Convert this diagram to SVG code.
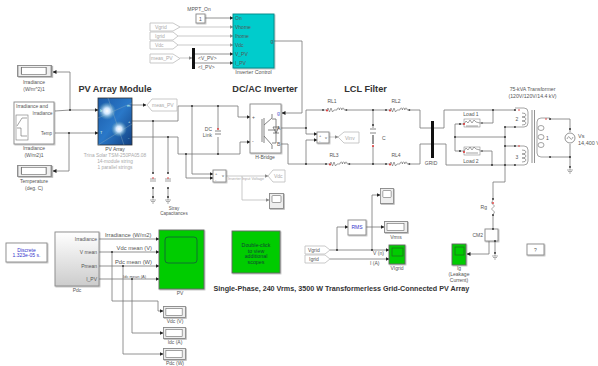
<svg xmlns="http://www.w3.org/2000/svg" width="598" height="366" viewBox="0 0 598 366">
<style>
text{font-family:"Liberation Sans",Arial,sans-serif;fill:#555;font-size:5px}
.m{text-anchor:middle}.e{text-anchor:end}
.h{font-weight:bold;fill:#333;font-size:9.200px;text-anchor:middle}
.g{fill:#aaa}
.w{fill:none;stroke:#777;stroke-width:.8}
.lg{fill:none;stroke:#bbb;stroke-width:.8}
.b{fill:#fff;stroke:#888;stroke-width:.9;filter:url(#s)}
.tag{fill:#fff;stroke:#bbb;stroke-width:.8}
.sc{fill:#0c0;stroke:#666;stroke-width:.9;filter:url(#s)}
.d{fill:#333}
.c{fill:none;stroke:#666;stroke-width:.6}
.l{font-size:5.800px}
</style>
<defs>
<filter id="s" x="-10%" y="-10%" width="125%" height="125%"><feDropShadow dx=".8" dy=".8" stdDeviation=".5" flood-color="#000" flood-opacity=".3"/></filter>
<linearGradient id="pdc" x1="0" y1="0" x2="0" y2="1"><stop offset="0" stop-color="#fff"/><stop offset="1" stop-color="#ccc"/></linearGradient>
<linearGradient id="pv" x1="0" y1="0" x2="1" y2="1"><stop offset="0" stop-color="#1a5aa8"/><stop offset=".5" stop-color="#2a78c8"/><stop offset="1" stop-color="#123f80"/></linearGradient>
<radialGradient id="gl"><stop offset="0" stop-color="#fff"/><stop offset=".35" stop-color="#cfe6ff"/><stop offset="1" stop-color="#6ab" stop-opacity="0"/></radialGradient>
<marker id="a" markerWidth="4" markerHeight="4" refX="3.500" refY="2" orient="auto" markerUnits="userSpaceOnUse"><path d="M0 0L4 2L0 4z" fill="#222"/></marker>
<marker id="ag" markerWidth="4" markerHeight="4" refX="3.500" refY="2" orient="auto" markerUnits="userSpaceOnUse"><path d="M0 0L4 2L0 4z" fill="#888"/></marker>
<symbol id="rl" width="26" height="6" viewBox="0 0 26 6" overflow="visible">
<circle cx="1" cy="3" r="1" fill="#333"/><path class="c" d="M1 3H5L6 1L7.500 5L9 1L10.500 5L12 3H15M15 3a1.200 2 0 0 1 2.400 0a1.200 2 0 0 1 2.400 0a1.200 2 0 0 1 2.400 0H25"/><circle cx="5" cy="3.500" r="1" fill="#d33"/><circle cx="24.500" cy="3" r=".8" fill="#333"/>
</symbol>
<symbol id="disp" viewBox="0 0 24 12" preserveAspectRatio="none" overflow="visible">
<rect x=".5" y=".5" width="23" height="11" class="b" style="fill:#eee"/><rect x="3" y="2.500" width="17" height="7" fill="#fff" stroke="#666" stroke-width=".6"/>
</symbol>
<symbol id="gnd" width="8" height="6" viewBox="0 0 8 6" overflow="visible"><path d="M4 0V2M1 2H7M2 3.500H6M3 5H5" stroke="#777" stroke-width=".6" fill="none"/></symbol>
<symbol id="scp" viewBox="0 0 15 16" preserveAspectRatio="none" overflow="visible"><rect x=".5" y=".5" width="14" height="15" class="b" style="fill:#eee"/><rect x="3" y="2.500" width="9" height="7" rx="1" fill="#fff" stroke="#666" stroke-width=".6"/></symbol>
</defs>

<g id="connectors">
<path class="w" d="M70 110V72H53" marker-end="url(#a)"/>
<path class="w" d="M55 111L70 110H98" marker-end="url(#a)"/>
<path class="w" d="M55 133H98" marker-end="url(#a)"/>
<path class="w" d="M69 133V171H53" marker-end="url(#a)"/>
<path class="w" d="M132 105H146" marker-end="url(#a)"/>
<path class="w" d="M132 121H178V106H238V117H250" marker-end="url(#a)"/>
<path class="w" d="M132 137H178V154H240V142H250" marker-end="url(#a)"/>
<path class="w" d="M153 121V173M153 188V198M168 137V173M168 188V198"/>
<path class="w" d="M218 106V154"/>
<path class="w" d="M192 106V174H213" marker-end="url(#a)"/>
<path class="w" d="M186 154V178H213" marker-end="url(#a)"/>
<path class="lg" d="M226 176H268" marker-end="url(#ag)"/>
<path class="lg" d="M242 176V200H269" marker-end="url(#ag)"/>
<path class="lg" d="M180 27H233" marker-end="url(#ag)"/>
<path class="lg" d="M178 36H233" marker-end="url(#ag)"/>
<path class="lg" d="M178 45H233" marker-end="url(#ag)"/>
<path class="lg" d="M180 58H192" marker-end="url(#ag)"/>
<path class="w" d="M205 18H233" marker-end="url(#a)"/>
<path class="w" d="M195 54H233" marker-end="url(#a)"/>
<path class="w" d="M195 63H233" marker-end="url(#a)"/>
<path class="w" d="M274 41H302V113H282" marker-end="url(#a)"/>
<path class="w" d="M281 128H306V110H322M345 110H385M408 110H420V128H431M434 128H444V110H515"/>
<path class="w" d="M306 128V134H317" marker-end="url(#a)"/>
<path class="w" d="M281 144H288V164H325M348 164H385M408 164H420V144H431M434 144H446V165H515"/>
<path class="w" d="M306 164V140H317" marker-end="url(#a)"/>
<path class="lg" d="M329 137H338" marker-end="url(#ag)"/>
<path class="w" d="M373 110V128M373 146V164"/>
<path class="w" d="M455 124H460M455 124V151H460M455 137H505M480 123H493V110M480 151H492V165M515 127H505V182H493V199M505 146H515M493 215V229M495 241V253M489 241V254"/>
<path class="w" d="M550 119H570V132M570 144V167M550 157H570"/>
<path class="w" d="M99 239H159" marker-end="url(#a)"/>
<path class="w" d="M99 252H159" marker-end="url(#a)"/>
<path class="w" d="M99 266H159" marker-end="url(#a)"/>
<path class="w" d="M99 279H159" marker-end="url(#a)"/>
<path class="w" d="M112 252V301H158V311H163" marker-end="url(#a)"/>
<path class="w" d="M132 279V333H163" marker-end="url(#a)"/>
<path class="w" d="M123 266V354H163" marker-end="url(#a)"/>
<path class="w" d="M330 250H389" marker-end="url(#a)"/>
<path class="w" d="M330 259H389" marker-end="url(#a)"/>
<path class="w" d="M337 250V227H348" marker-end="url(#a)"/>
<path class="w" d="M366 227H384" marker-end="url(#a)"/>
<path class="w" d="M372 250V195H380" marker-end="url(#a)"/>
<path class="w" d="M489 254H467" marker-end="url(#a)"/>
<g class="d">
<circle cx="70" cy="110" r="1"/><circle cx="69" cy="133" r="1"/><circle cx="153" cy="121" r="1"/><circle cx="168" cy="137" r="1"/>
<circle cx="192" cy="106" r="1"/><circle cx="218" cy="106" r="1"/><circle cx="186" cy="154" r="1"/><circle cx="218" cy="154" r="1"/>
<circle cx="306" cy="128" r="1"/><circle cx="306" cy="164" r="1"/><circle cx="373" cy="110" r="1"/><circle cx="373" cy="164" r="1"/>
<circle cx="493" cy="110" r="1"/><circle cx="492" cy="165" r="1"/><circle cx="455" cy="137" r="1"/><circle cx="505" cy="137" r="1"/><circle cx="505" cy="146" r="1"/><circle cx="505" cy="127" r="1"/><circle cx="505" cy="165" r="1"/>
<circle cx="570" cy="129" r="1"/><circle cx="570" cy="157" r="1"/><circle cx="570" cy="167" r="1"/><circle cx="493" cy="199" r="1"/><circle cx="493" cy="215" r="1"/><circle cx="495" cy="253" r="1"/>
<circle cx="153" cy="173" r="1"/><circle cx="153" cy="188" r="1"/><circle cx="153" cy="197" r="1"/><circle cx="168" cy="173" r="1"/><circle cx="168" cy="188" r="1"/><circle cx="168" cy="197" r="1"/>
<circle cx="112" cy="252" r="1"/><circle cx="123" cy="266" r="1"/><circle cx="132" cy="279" r="1"/><circle cx="337" cy="250" r="1"/><circle cx="372" cy="250" r="1"/>
<circle cx="515" cy="110" r="1"/><circle cx="515" cy="127" r="1"/><circle cx="515" cy="146" r="1"/><circle cx="515" cy="165" r="1"/><circle cx="550" cy="119" r="1"/><circle cx="550" cy="157" r="1"/>
</g>
</g>

<g id="irr-display"><use href="#disp" x="17" y="65" width="35" height="12"/><text class="m" x="34" y="84">Irradiance</text><text class="m" x="34" y="91">(W/m^2)1</text></g>
<g id="irr-source"><rect class="b" x="14" y="102" width="40" height="42"/><text x="16" y="107.500">Irradiance and</text><text class="e" x="52.500" y="114.500" style="font-size:4.500px">Irradiance</text><text class="e" x="52" y="134.500" style="font-size:4.500px">Temp</text><rect x="16" y="115" width="12" height="25" fill="#fff" stroke="#777" stroke-width=".6"/><path class="c" d="M17 126L22 118H27M17 128H21V136H27"/><text class="m" x="34" y="150">Irradiance</text><text class="m" x="34" y="156.500">(W/m2)1</text></g>
<g id="temp-display"><use href="#disp" x="17" y="165" width="35" height="12"/><text class="m" x="34" y="183">Temperature</text><text class="m" x="34" y="190">(deg. C)</text></g>
<text class="h" x="115" y="91.500">PV Array Module</text>
<g id="pv-array"><rect x="98" y="98" width="34" height="47" fill="url(#pv)" stroke="#333" stroke-width=".8"/><path d="M98 118L132 103M108 98L124 145M98 145L132 124" stroke="#8ab" stroke-width=".4" fill="none"/><circle cx="107" cy="111" r="9" fill="url(#gl)"/><circle cx="119" cy="129" r="8" fill="url(#gl)"/><text x="100" y="112" style="fill:#dfe;font-size:4px">Ir</text><text x="100" y="134" style="fill:#dfe;font-size:4px">T</text><text x="127" y="107" style="fill:#dfe;font-size:4px">m</text><text x="128" y="123" style="fill:#dfe;font-size:4px">+</text><text x="128" y="139" style="fill:#dfe;font-size:4px">-</text>
<text class="m" x="115" y="150.500">PV Array</text><text class="m g" x="115" y="157" style="font-size:4.800px">Trina Solar TSM-250PA05.08</text><text class="m g" x="115" y="163" style="font-size:4.800px">14-module string</text><text class="m g" x="115" y="169" style="font-size:4.800px">1 parallel strings</text></g>
<g id="tag-measpv-from"><path class="tag" d="M147 105L152 99H177V111H152z"/><text class="g" x="152" y="107">meas_PV</text></g>
<g id="dc-link"><rect x="215" y="129" width="6" height="8" fill="#fff"/><path d="M215 131H221M215 134H221" stroke="#555" stroke-width=".7"/><circle cx="218" cy="129" r=".9" fill="#d33"/><text class="e" x="212" y="131">DC</text><text class="e" x="212" y="137">Link</text></g>
<g id="stray"><path d="M150 179H156M150 181H156M165 179H171M165 181H171" stroke="#666" stroke-width=".6"/><circle cx="153" cy="178" r=".8" fill="#d33"/><circle cx="168" cy="178" r=".8" fill="#d33"/><use href="#gnd" x="149" y="198" width="8" height="6"/><use href="#gnd" x="164" y="198" width="8" height="6"/><text class="m" x="174" y="210" style="font-size:4.500px">Stray</text><text class="m" x="174" y="215" style="font-size:4.500px">Capacitances</text></g>
<g id="vdc-meas"><rect class="b" x="213" y="170" width="13" height="12"/><text x="215" y="175" style="font-size:4px">+</text><text x="215" y="181" style="font-size:4px">-</text><text x="222" y="177" style="font-size:4px">v</text><text class="g" x="228" y="180" style="font-size:3.800px">Inverter Input Voltage</text><path class="tag" d="M268 176L273 170H285V182H273z"/><text class="g" x="274" y="178">Vdc</text></g>
<use id="scope-vdc" href="#scp" x="269" y="193" width="15" height="16"/>
<g id="mppt"><rect class="b" x="196" y="14" width="9" height="9"/><text class="m" x="200.500" y="20.500">1</text><text class="m" x="199" y="10.500">MPPT_On</text></g>
<g id="tags"><path class="tag" d="M150 23H173L180 27L173 31H150z"/><text class="g" x="155" y="29">Vgrid</text><path class="tag" d="M150 32H173L178 36L173 40H150z"/><text class="g" x="155" y="38">Igrid</text><path class="tag" d="M150 41H173L178 45L173 49H150z"/><text class="g" x="155" y="47">Vdc</text><path class="tag" d="M150 54H173L180 58.500L173 63H150z"/><text class="g" x="151" y="60">meas_PV</text></g>
<g id="bus"><rect x="192" y="48" width="3" height="21" fill="#111"/><text x="198" y="60">&lt;V_PV&gt;</text><text x="198" y="69">&lt;I_PV&gt;</text></g>
<g id="inverter-control"><rect x="233" y="14" width="41" height="54" fill="#0cc" stroke="#088" stroke-width=".9" filter="url(#s)"/><text x="235" y="20">On</text><text x="235" y="29">Vhome</text><text x="235" y="38">Ihome</text><text x="235" y="47">Vdc</text><text x="235" y="56">V_PV</text><text x="235" y="65">I_PV</text><text x="270.500" y="43">g</text><text class="m" x="253.500" y="73.500" style="font-size:5.300px">Inverter Control</text></g>
<text class="h" x="265" y="91.500">DC/AC Inverter</text>
<g id="h-bridge"><rect class="b" x="250" y="104" width="31" height="49"/><path d="M262 119V142M264 118V143M264 125L272 118V114M264 136L272 145V149M268 130L276 130M276 119V143H272M276 119H272M273 127L276 133L279 127zM273 133H279" stroke="#666" stroke-width=".8" fill="none"/><text x="252" y="119">+</text><text x="252" y="143">-</text><text x="277" y="115" style="fill:#55c">g</text><text x="277" y="130">A</text><text x="277" y="146">B</text><text class="m" x="265" y="158.500">H-Bridge</text></g>
<text class="h" x="365.500" y="91.500">LCL Filter</text>
<g id="rl1"><use href="#rl" x="322" y="107" width="26" height="6"/><text class="m" x="332" y="102.500">RL1</text></g>
<g id="rl2"><use href="#rl" x="385" y="107" width="26" height="6"/><text class="m" x="396" y="102.500">RL2</text></g>
<g id="rl3"><use href="#rl" x="325" y="161" width="26" height="6"/><text class="m" x="334" y="156.500">RL3</text></g>
<g id="rl4"><use href="#rl" x="385" y="161" width="26" height="6"/><text class="m" x="396" y="156.500">RL4</text></g>
<g id="cap"><path d="M370 129H376M370 133H376" stroke="#555" stroke-width=".7"/><rect x="372" y="135" width="2" height="9" fill="#999"/><circle cx="373" cy="125" r="1" fill="#333"/><circle cx="373" cy="146" r="1" fill="#d33"/><text x="382" y="139.500">C</text></g>
<g id="vinv"><rect class="b" x="317" y="132" width="12" height="11"/><text x="319" y="137" style="font-size:4px">+</text><text x="319" y="142" style="font-size:4px">-</text><text x="325" y="139" style="font-size:4px">v</text><path class="tag" d="M338 137L344 132H359V143H344z"/><text class="g" x="345" y="139.500">Vinv</text></g>
<g id="grid"><rect x="431" y="121" width="3" height="37" fill="#111"/><circle cx="432.500" cy="128" r="1.500" fill="#111"/><circle cx="432.500" cy="144" r="1.500" fill="#111"/><text class="m" x="431" y="158" dy="7">GRID</text></g>
<g id="load1"><rect x="464" y="119" width="16" height="8" fill="#fff" stroke="#777" stroke-width=".5"/><path class="c" d="M460 124H464L466 121L468 123L470 120L472 123L474 120L476 122L480 123M466 126H478"/><circle cx="460" cy="124" r="1" fill="#333"/><circle cx="464" cy="124" r="1" fill="#d33"/><circle cx="482" cy="123" r=".8" fill="#333"/><text class="m" x="471" y="115.500">Load 1</text></g>
<g id="load2"><rect x="464" y="147" width="16" height="8" fill="#fff" stroke="#777" stroke-width=".5"/><path class="c" d="M460 151H464L466 148L468 150L470 147L472 150L474 147L476 149L480 150M466 153H478"/><circle cx="460" cy="151" r="1" fill="#333"/><circle cx="464" cy="152" r="1" fill="#d33"/><circle cx="482" cy="151" r=".8" fill="#333"/><text class="m" x="471" y="163">Load 2</text></g>
<g id="transformer"><text class="m" x="532.500" y="91" style="font-size:5.200px">75-kVA Transformer</text><text class="m" x="532.500" y="97.500" style="font-size:5.200px">(120V/120V/14.4 kV)</text>
<path class="c" d="M515 108H524Q528 108 528 112V123Q528 127 524 127H515M515 146H524Q528 146 528 150V161Q528 165 524 165H515"/>
<path class="c" d="M522 113a4 2 0 0 1 0 4a4 2 0 0 1 0 4a4 2 0 0 1 0 4M522 150a4 2 0 0 1 0 4a4 2 0 0 1 0 4a4 2 0 0 1 0 4"/>
<path d="M532 110V163M534.500 110V163" stroke="#777" stroke-width=".8"/>
<path class="c" d="M550 118H541Q537 118 537 122V153Q537 157 541 157H550"/>
<ellipse class="c" cx="541" cy="128" rx="3" ry="2.500"/><ellipse class="c" cx="541" cy="137" rx="3" ry="2.500"/><ellipse class="c" cx="541" cy="145" rx="3" ry="2.500"/>
<circle cx="519" cy="110" r=".8" fill="#d33"/><circle cx="519" cy="146" r=".8" fill="#d33"/><circle cx="546" cy="119" r=".8" fill="#d33"/>
<text x="515.500" y="120.500">2</text><text x="515.500" y="158.500">3</text><text x="546" y="139.500">1</text></g>
<g id="vs"><circle cx="570" cy="138" r="5" fill="#fff" stroke="#666" stroke-width=".7"/><path class="c" d="M567 139Q568.500 135 570 138T573 137"/><use href="#gnd" x="566" y="168" width="8" height="6"/><text x="578" y="138" style="font-size:5.500px">Vs</text><text x="578" y="144.500" style="font-size:5.500px">14,400 V</text></g>
<g id="rg"><path class="c" d="M493 200L491.500 203L494.500 206L491.500 209L494.500 212L493 215"/><circle cx="493" cy="203" r=".9" fill="#d33"/><text class="e" x="487" y="209">Rg</text></g>
<g id="cm2"><rect class="b" x="485" y="229" width="13" height="12"/><text class="e" x="483" y="237">CM2</text><circle cx="493" cy="229" r="1" fill="#333"/><circle cx="495" cy="241" r="1" fill="#333"/><use href="#gnd" x="491" y="254" width="8" height="6"/></g>
<g id="ig-scope"><rect class="sc" x="452" y="244" width="14" height="21"/><rect x="455" y="247" width="9" height="8" fill="none" stroke="#262" stroke-width=".7"/><text class="m" x="459" y="270">Ig</text><text class="m" x="459" y="276">(Leakage</text><text class="m" x="459" y="282">Current)</text></g>
<g id="help"><rect class="b" x="527" y="244" width="17" height="11"/><text class="m" x="535.500" y="251.500">?</text></g>

<g id="discrete"><rect class="b" x="6" y="243" width="41" height="19"/><text class="m" x="26.500" y="252" style="fill:#33c">Discrete</text><text class="m" x="26.500" y="257" style="fill:#33c">1.323e-05 s.</text></g>
<g id="pdc-block"><rect x="55" y="232" width="44" height="54" fill="url(#pdc)" stroke="#888" stroke-width=".9" filter="url(#s)"/><text class="e" x="97" y="241">Irradiance</text><text class="e" x="97" y="254">V mean</text><text class="e" x="97" y="268">Pmean</text><text class="e" x="97" y="281">I_PV</text><text class="m" x="77" y="292">Pdc</text></g>
<g id="wire-labels"><text class="l" x="105" y="237">Irradiance (W/m2)</text><text class="e l" x="152" y="250">Vdc mean (V)</text><text class="e l" x="152" y="264">Pdc mean (W)</text><text class="e" x="146" y="278" style="font-size:4px">Idc mean (A)</text></g>
<g id="pv-scope"><rect class="sc" x="159" y="230" width="45" height="59"/><rect x="165" y="237" width="32" height="26" rx="3" fill="none" stroke="#163" stroke-width=".9"/><text class="m" x="180" y="295">PV</text></g>
<g id="disp-vdc"><use href="#disp" x="163" y="306" width="23" height="12"/><text class="m" x="175" y="322.500">Vdc (V)</text></g>
<g id="disp-idc"><use href="#disp" x="163" y="327" width="23" height="12"/><text class="m" x="175" y="344">Idc (A)</text></g>
<g id="disp-pdc"><use href="#disp" x="163" y="348" width="23" height="12"/><text class="m" x="175" y="365">Pdc (W)</text></g>
<g id="double-click"><rect class="sc" x="232" y="231" width="48" height="42"/><text class="m" x="256" y="247" style="fill:#143;font-size:5.300px">Double-click</text><text class="m" x="256" y="252.500" style="fill:#143;font-size:5.300px">to view</text><text class="m" x="256" y="258" style="fill:#143;font-size:5.300px">additional</text><text class="m" x="256" y="263.500" style="fill:#143;font-size:5.300px">scopes</text></g>
<text id="title" x="213.500" y="291" style="font-weight:bold;font-size:7.200px;fill:#333">Single-Phase, 240 Vrms, 3500 W Transformerless Grid-Connected PV Array</text>
<g id="vi-tags"><path class="tag" d="M305 246H325L330 250L325 254H305z"/><text x="308" y="252">Vgrid</text><path class="tag" d="M305 255H325L330 259L325 263H305z"/><text x="309" y="261">Igrid</text><text x="373" y="255">V (n)</text><text x="370" y="265">I (A)</text></g>
<g id="rms"><rect class="b" x="348" y="220" width="18" height="15"/><text class="m" x="357" y="229" style="fill:#33c">RMS</text></g>
<use id="scope-vinv" href="#scp" x="380" y="188" width="14" height="16"/>
<g id="disp-vrms"><use href="#disp" x="384" y="221" width="24" height="12"/><text class="m" x="396" y="239">Vrms</text></g>
<g id="vi-scope"><rect class="sc" x="389" y="245" width="16" height="19"/><rect x="392" y="248" width="11" height="8" fill="none" stroke="#262" stroke-width=".7"/><text class="m" x="397" y="270">VIgrid</text></g>
</svg>
